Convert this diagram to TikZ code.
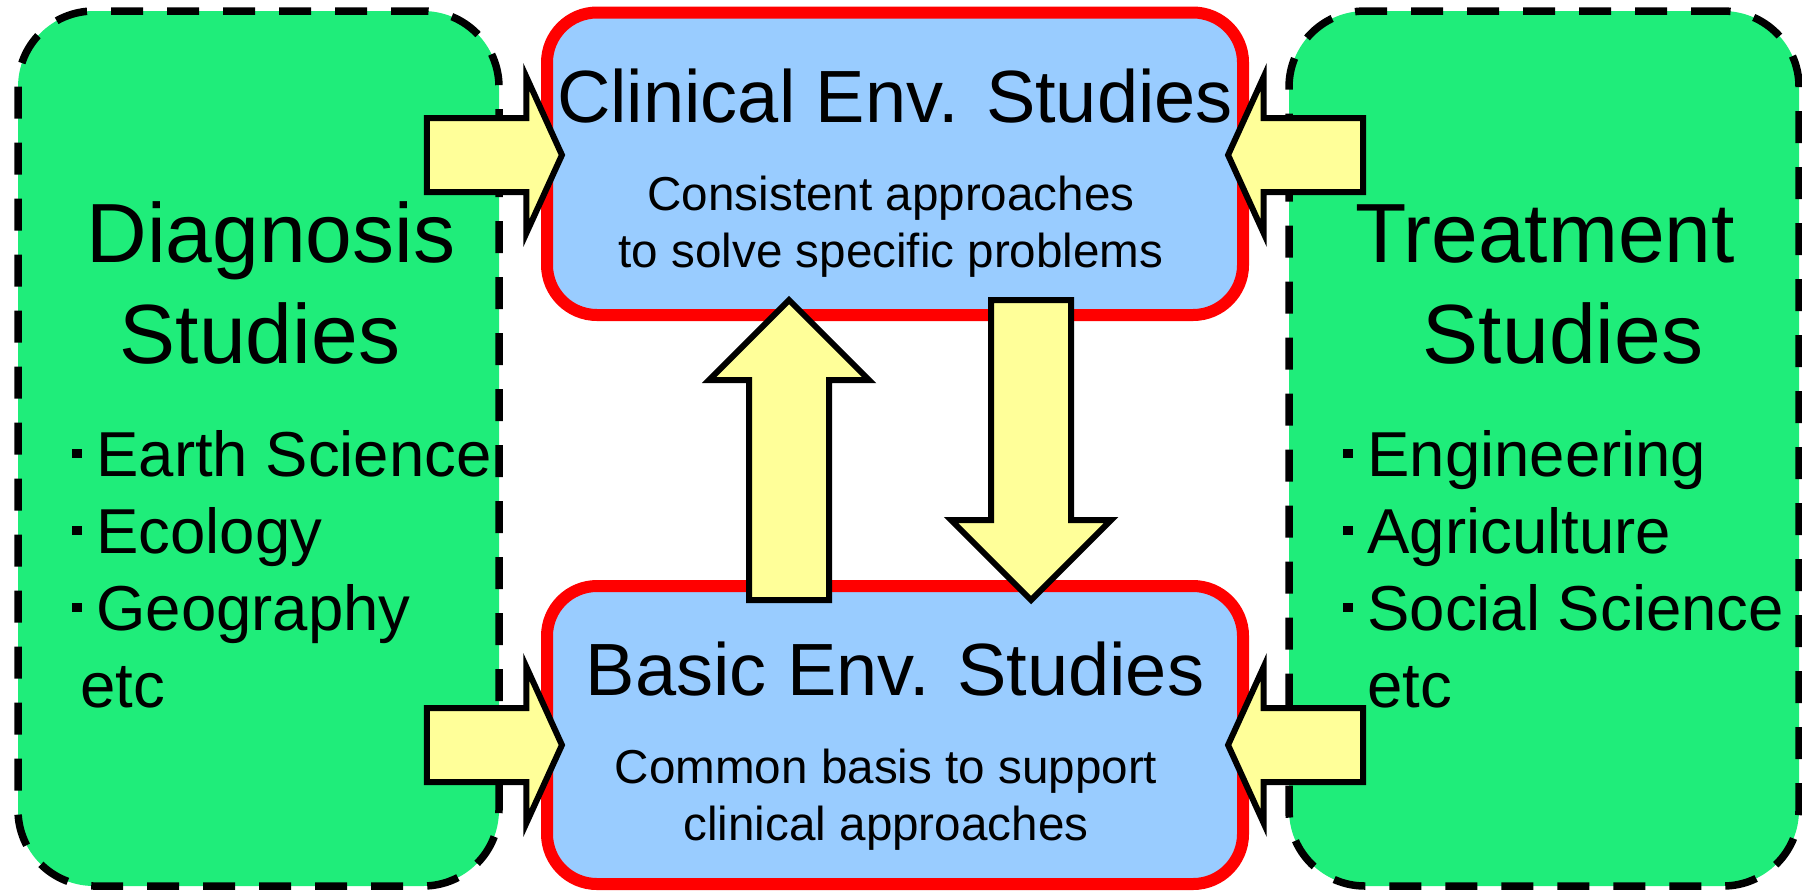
\documentclass[tikz,border=0pt]{standalone}
\usepackage{fontspec}
\setmainfont{Liberation Sans}
\usetikzlibrary{shapes.arrows}

\definecolor{fieldgreen}{RGB}{31,237,122}
\definecolor{envblue}{RGB}{153,204,255}
\definecolor{arrowyellow}{RGB}{255,255,153}

% small square bullet in front of each field
\newcommand{\sqitem}{\rule[9pt]{5pt}{4.5pt}\hspace{7pt}}

\begin{document}
\begin{tikzpicture}[x=0.5pt, y=-0.5pt,
    fieldbox/.style={draw=black, fill=fieldgreen, line width=3.75pt,
        dash pattern=on 16pt off 12pt, rounded corners=38pt,
        minimum width=#1, minimum height=437.5pt, inner sep=0pt},
    envbox/.style={draw=red, fill=envblue, line width=6pt, rounded corners=25pt,
        minimum width=348pt, minimum height=#1, inner sep=0pt},
    txt/.style={inner sep=0pt, align=center},
    sidearrow/.style={single arrow, draw=black, fill=arrowyellow, line width=3pt,
        inner xsep=0pt, inner ysep=17pt, minimum height=67.5pt,
        single arrow head extend=20.5pt, single arrow tip angle=131},
    vertarrow/.style={single arrow, draw=black, fill=arrowyellow, line width=3pt,
        inner xsep=0pt, inner ysep=18.5pt, minimum height=150pt,
        single arrow head extend=20pt, single arrow tip angle=90}]
    \useasboundingbox (0,0) rectangle (1802,891);

    % The two outer fields (dashed green)
    \node[fieldbox=240.5pt] (diag) at (258.5,448.5) {};
    \node[fieldbox=255pt] (treat) at (1544,448.5) {};

    % The two environmental studies boxes
    \node[envbox=151.25pt] (clin) at (895,163.75) {};
    \node[envbox=149pt] (basic) at (895,735) {};

    % Titles and lists of the fields (base = last line)
    \node[txt, anchor=base, font=\fontsize{42}{50.5}\selectfont] (diagtitle) at (271,363) {Diagnosis\\Studies\rule{11pt}{0pt}};
    \node[txt, anchor=base, font=\fontsize{42}{50.5}\selectfont] (treattitle) at (1545,363) {Treatment\\\rule{18pt}{0pt}Studies};
    \node[txt, align=left, anchor=base west, font=\fontsize{31.75}{38.5}\selectfont] (diaglist) at (72,707)
        {\sqitem Earth Science\\\sqitem Ecology\\\sqitem Geography\\\hspace*{4pt}etc};
    \node[txt, align=left, anchor=base west, font=\fontsize{31.75}{38.5}\selectfont] (treatlist) at (1343,707)
        {\sqitem Engineering\\\sqitem Agriculture\\\sqitem Social Science\\\hspace*{12pt}etc};

    % Titles and descriptions of the env. studies
    \node[txt, anchor=base, font=\fontsize{37}{44}\selectfont] (clintitle) at (895,122) {Clinical Env. Studies};
    \node[txt, anchor=base, font=\fontsize{23.8}{28.5}\selectfont] (clindesc) at (891,267)
        {Consistent approaches\\to solve specific problems};
    \node[txt, anchor=base, font=\fontsize{37}{44}\selectfont] (basictitle) at (895,695) {Basic Env. Studies};
    \node[txt, anchor=base, font=\fontsize{23.8}{28.5}\selectfont] (basicdesc) at (886,840)
        {Common basis to support\\clinical approaches};

    % Block arrows between the boxes
    \node[sidearrow] (diag2clin) at (486,155) {};
    \node[sidearrow] (diag2basic) at (486,745) {};
    \node[sidearrow, rotate=180] (treat2clin) at (1304,155) {};
    \node[sidearrow, rotate=180] (treat2basic) at (1304,745) {};
    \node[vertarrow, rotate=90] (basic2clin) at (789,470) {};
    \node[vertarrow, rotate=-90] (clin2basic) at (1031,430) {};
\end{tikzpicture}
\end{document}
